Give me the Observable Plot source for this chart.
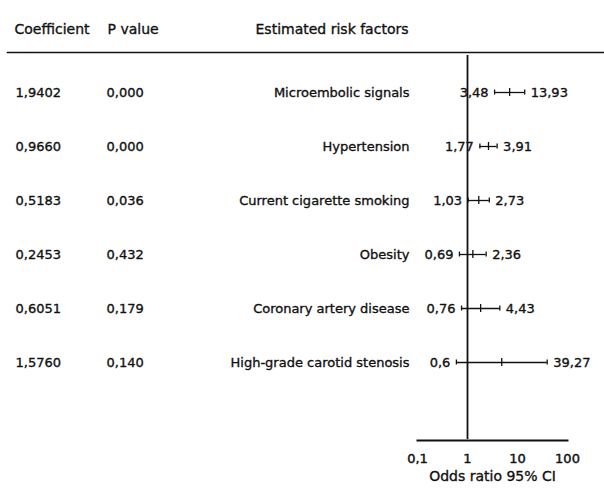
<!DOCTYPE html>
<html>
<head>
<meta charset="utf-8">
<script src="https://cdn.jsdelivr.net/npm/d3@7"></script>
<script src="https://cdn.jsdelivr.net/npm/@observablehq/plot@0.6"></script>
<style>
  html, body { margin: 0; padding: 0; background: #fff; }
  #chart svg { display: block; }
</style>
</head>
<body>
<div id="chart"></div>
<script>
const factors = ["Microembolic signals", "Hypertension", "Current cigarette smoking", "Obesity", "Coronary artery disease", "High-grade carotid stenosis"];
const coefficients = [1.9402, 0.9660, 0.5183, 0.2453, 0.6051, 1.5760];
const pValues = [0.000, 0.000, 0.036, 0.432, 0.179, 0.140];
const oddsRatio = [6.96, 2.63, 1.68, 1.28, 1.83, 4.84];
const lower = [3.48, 1.77, 1.03, 0.69, 0.76, 0.6];
const upper = [13.93, 3.91, 2.73, 2.36, 4.43, 39.27];
const xTicks = [0.1, 1, 10, 100];
const headers = ["Coefficient", "P value", "Estimated risk factors"];
const xLabel = "Odds ratio 95% CI";

const rows = factors.map((f, i) => ({
  factor: f, coef: coefficients[i], p: pValues[i],
  or: oddsRatio[i], lo: lower[i], hi: upper[i]
}));
const comma = v => String(v).replace(".", ",");
const font = "DejaVu Sans, Verdana, sans-serif";
const ink = "#111";
const thick = {stroke: ink, strokeWidth: 0.35};

const chart = Plot.plot({
  width: 604,
  height: 489,
  marginLeft: 417,
  marginRight: 37,
  marginTop: 53,
  marginBottom: 49,
  style: {fontFamily: font, fontSize: "13px", color: ink, background: "#fff"},
  x: {type: "log", domain: [0.1, 100]},
  y: {type: "band", domain: factors, range: [65, 389], padding: 0, axis: null},
  marks: [
    // header rule
    Plot.frame({anchor: "top", insetLeft: -410, insetRight: -37, stroke: ink, strokeWidth: 1.6, dy: -1}),
    // axis line
    Plot.frame({anchor: "bottom", stroke: ink, strokeWidth: 2}),
    Plot.axisX({ticks: xTicks, tickFormat: comma, tickSize: 0, tickPadding: 13, fontSize: 13, fill: ink, textStroke: ink, textStrokeWidth: 0.45, label: null}),
    Plot.text([xLabel], {frameAnchor: "bottom", dy: 40, fontSize: 14, fill: ink, ...thick}),
    // vertical reference at OR = 1
    Plot.ruleX([1], {stroke: ink, strokeWidth: 1.8, insetTop: 2, insetBottom: 1}),
    // headers
    Plot.text([headers[0]], {frameAnchor: "top-left", dx: -403, dy: -29, textAnchor: "start", fontSize: 14, fill: ink, ...thick}),
    Plot.text([headers[1]], {frameAnchor: "top-left", dx: -310, dy: -29, textAnchor: "start", fontSize: 14, fill: ink, ...thick}),
    Plot.text([headers[2]], {frameAnchor: "top-left", dx: -9, dy: -29, textAnchor: "end", fontSize: 14, fill: ink, ...thick}),
    // table columns
    Plot.text(rows, {y: "factor", text: d => d.coef.toFixed(4).replace(".", ","), frameAnchor: "left", dx: -402, textAnchor: "start", fill: ink, ...thick}),
    Plot.text(rows, {y: "factor", text: d => d.p.toFixed(3).replace(".", ","), frameAnchor: "left", dx: -311, textAnchor: "start", fill: ink, ...thick}),
    Plot.text(rows, {y: "factor", text: "factor", frameAnchor: "left", dx: -8, textAnchor: "end", fill: ink, ...thick}),
    // CI lines
    Plot.ruleY(rows, {y: "factor", x1: "lo", x2: "hi", stroke: ink, strokeWidth: 1.3}),
    Plot.tickX(rows, {y: "factor", x: "lo", stroke: ink, strokeWidth: 1.3, insetTop: 24.5, insetBottom: 24.5}),
    Plot.tickX(rows, {y: "factor", x: "hi", stroke: ink, strokeWidth: 1.3, insetTop: 24.5, insetBottom: 24.5}),
    Plot.tickX(rows, {y: "factor", x: "or", stroke: ink, strokeWidth: 1.3, insetTop: 23, insetBottom: 23}),
    // CI value labels
    Plot.text(rows, {y: "factor", x: "lo", text: d => comma(d.lo), dx: -6, textAnchor: "end", fill: ink, ...thick}),
    Plot.text(rows, {y: "factor", x: "hi", text: d => comma(d.hi), dx: 6, textAnchor: "start", fill: ink, ...thick})
  ]
});
document.getElementById("chart").append(chart);
</script>
</body>
</html>
